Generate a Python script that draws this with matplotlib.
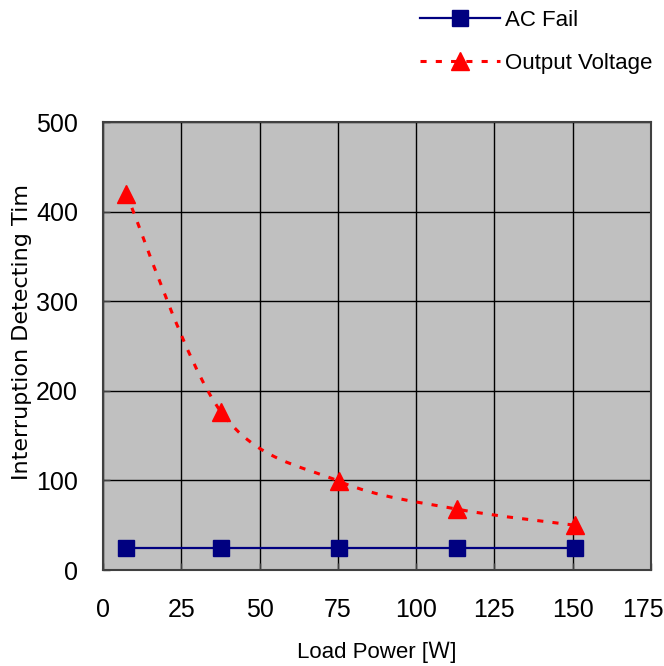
import numpy as np
import matplotlib
matplotlib.use("Agg")
import matplotlib.pyplot as plt
import matplotlib.transforms as mtransforms
from matplotlib.path import Path
from matplotlib.patches import PathPatch
from matplotlib.lines import Line2D

# data
load_power = [7.4, 37.8, 75.4, 113, 150.7]
ac_fail = [25, 25, 25, 25, 25]
output_voltage = [420, 176, 99, 68, 50]
x_ticks = [0, 25, 50, 75, 100, 125, 150, 175]
y_ticks = [0, 100, 200, 300, 400, 500]

plt.rcParams['font.family'] = ['Liberation Sans', 'Noto Sans CJK JP', 'DejaVu Sans']

fig = plt.figure(figsize=(6.64, 6.66), dpi=100)
ax = fig.add_axes([0.1551, 0.1441, 0.8253, 0.6727])
ax.set_facecolor('#c0c0c0')


def smooth_path(xs, ys):
    # Excel-like smoothed line: Catmull-Rom segments as cubic Bezier curves
    pts = np.column_stack([xs, ys]).astype(float)
    n = len(pts)
    verts = [pts[0]]
    codes = [Path.MOVETO]
    for i in range(n - 1):
        p0 = pts[i - 1] if i > 0 else pts[i]
        p1 = pts[i]
        p2 = pts[i + 1]
        p3 = pts[i + 2] if i + 2 < n else pts[i + 1]
        c1 = p1 + (p2 - p0) / 6.0
        c2 = p2 - (p3 - p1) / 6.0
        verts += [c1, c2, p2]
        codes += [Path.CURVE4] * 3
    return Path(verts, codes)


ax.plot(load_power, ac_fail, color='#000080', lw=1.6, marker='s',
        markersize=11, zorder=4)
ax.add_patch(PathPatch(smooth_path(load_power, output_voltage), fill=False,
                       edgecolor='#ff0000', lw=2.2, linestyle=(0, (2, 3)),
                       zorder=3))
ax.plot(load_power, output_voltage, ls='none', color='#ff0000', marker='^',
        markersize=13, zorder=4)

ax.set_xlim(0, 175)
ax.set_ylim(0, 500)
ax.set_xticks(x_ticks)
ax.set_yticks(y_ticks)
ax.grid(True, color='black', lw=1)
ax.set_axisbelow(True)
ax.tick_params(direction='in', length=5, width=1, labelsize=18, color='#404040')
ax.tick_params(axis='x', pad=20)
ax.tick_params(axis='y', pad=18)
for s in ax.spines.values():
    s.set_color('#404040')
    s.set_linewidth(1.5)

# last x label sits a bit left of its tick, as in the original
fig.canvas.draw()
last = ax.get_xticklabels()[-1]
last.set_transform(last.get_transform() +
                   mtransforms.ScaledTranslation(-8 / 100, 0, fig.dpi_scale_trans))

ax.set_ylabel('Interruption Detecting Tim', fontsize=16, family='DejaVu Sans')
ax.yaxis.set_label_coords(-0.13, 0.531)
ax.set_xlabel('Load Power [Ｗ]', fontsize=16, labelpad=14,
              family=['Liberation Sans', 'Noto Sans CJK JP'])

handles = [
    Line2D([], [], color='#000080', lw=1.6, marker='s', markersize=11),
    Line2D([], [], color='#ff0000', lw=2.2, ls=(0, (2, 3)), marker='^',
           markersize=13),
]
fig.legend(handles, ['AC Fail', 'Output Voltage'], loc='upper right',
           bbox_to_anchor=(1.012, 1.015), frameon=False,
           prop={'family': 'Liberation Sans', 'size': 16},
           handlelength=3.6, labelspacing=1.0, handletextpad=0.2)

fig.savefig('out.png', dpi=100)
